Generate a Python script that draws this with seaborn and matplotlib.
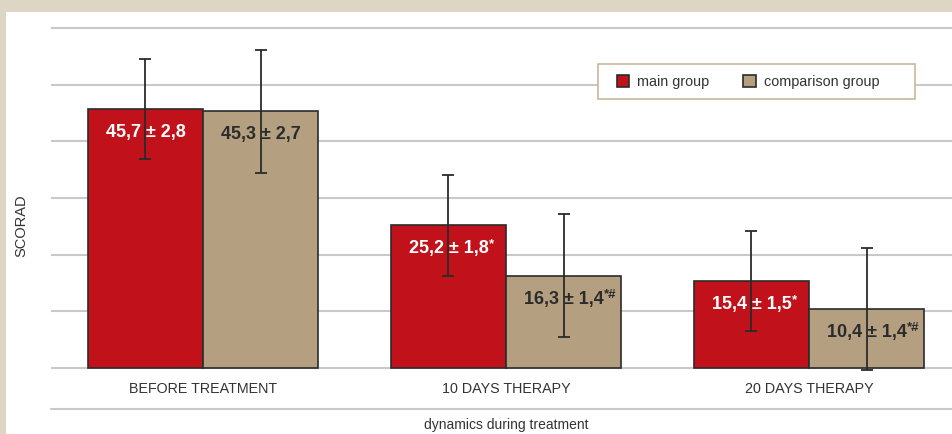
import pandas as pd
import matplotlib.pyplot as plt
import seaborn as sns
from matplotlib.lines import Line2D
from matplotlib.patches import Rectangle

# data
stages = ["BEFORE TREATMENT", "10 DAYS THERAPY", "20 DAYS THERAPY"]
groups = ["main group", "comparison group"]
main_vals = [45.7, 25.2, 15.4]
comp_vals = [45.3, 16.3, 10.4]
main_err = [8.8, 8.9, 8.8]
comp_err = [10.8, 10.8, 10.8]
main_labels = ["45,7 ± 2,8", "25,2 ± 1,8", "15,4 ± 1,5"]
main_sup = ["", "*", "*"]
comp_labels = ["45,3 ± 2,7", "16,3 ± 1,4", "10,4 ± 1,4"]
comp_sup = ["", "*#", "*#"]

df = pd.DataFrame({
    "stage": stages * 2,
    "group": [groups[0]] * 3 + [groups[1]] * 3,
    "value": main_vals + comp_vals,
})

red = "#c1121b"
tan = "#b49f80"
text_col = "#333333"
grid_col = "#c9c9c9"

sns.set_style("white")
plt.rcParams["font.family"] = ["Liberation Sans", "DejaVu Sans"]

fig = plt.figure(figsize=(9.53, 4.34), dpi=100)
fig.patch.set_facecolor("#ded6c4")
fig.add_artist(Rectangle((6 / 953, 0), 1, 1 - 12 / 434, transform=fig.transFigure,
                         facecolor="white", edgecolor="none", zorder=0))

W, H = 953, 434
unit = 340 / 60
ax = fig.add_axes([51.5 / W, (434 - 368 - 0.3 * unit) / H, 909 / W, (340 + 0.6 * unit) / H])
ax.set_facecolor("none")

sns.barplot(data=df, x="stage", y="value", hue="group", hue_order=groups,
            palette=[red, tan], width=0.76, errorbar=None, saturation=1,
            edgecolor="#2b2b2b", linewidth=1.2, ax=ax, zorder=3)

ax.set_ylim(-0.3, 60.3)
ax.set_xlim(-0.5, 2.5)
ax.set_yticks(range(0, 61, 10))
ax.set_yticklabels([])
ax.yaxis.grid(True, color=grid_col, linewidth=1.5)
ax.set_axisbelow(True)
for s in ax.spines.values():
    s.set_visible(False)
ax.tick_params(axis="both", length=0)
ax.tick_params(axis="x", pad=9, labelsize=10.3, labelcolor=text_col)

# error bars and value labels on top of bars
sets = [(main_err, main_labels, main_sup, "white"),
        (comp_err, comp_labels, comp_sup, "#2b2b2b")]
for cont, (errs, labs, sups, tc) in zip(ax.containers, sets):
    for bar, e, lab, sup in zip(cont, errs, labs, sups):
        xc = bar.get_x() + bar.get_width() / 2
        h = bar.get_height()
        ax.errorbar(xc, h, yerr=e, fmt="none", ecolor="#2b2b2b", elinewidth=1.3,
                    capsize=4.5, capthick=1.3, zorder=4, clip_on=False)
        t = ax.annotate(lab, (xc, h), xytext=(0, -17), textcoords="offset points",
                        ha="center", va="center", fontsize=13, fontweight="bold",
                        color=tc, zorder=5)
        if sup:
            ax.annotate(sup, xy=(1, 1), xycoords=t, xytext=(0.3, 1.5), textcoords="offset points",
                        ha="left", va="top", fontsize=9.5, fontweight="bold",
                        color=tc, zorder=5)

ax.set_xlabel("dynamics during treatment", fontsize=10, color=text_col, labelpad=16)
ax.set_ylabel("SCORAD", fontsize=10.5, color=text_col)
ax.yaxis.set_label_coords(28 / W, 1 - 226 / H, transform=fig.transFigure)

# line under category labels
fig.add_artist(Line2D([51.5 / W, 1], [1 - 409 / H] * 2, transform=fig.transFigure,
                      color=grid_col, linewidth=1.5))

# legend with a plain box around it
ax.add_patch(Rectangle((598 / W, 1 - 99 / H), 317 / W, 35 / H, transform=fig.transFigure,
                       facecolor="white", edgecolor="#c9b99c", linewidth=1.2,
                       zorder=6, clip_on=False))
leg = ax.legend(loc="center left", bbox_to_anchor=(617 / W, 1 - 82 / H),
                bbox_transform=fig.transFigure, ncol=2, frameon=False,
                fontsize=10.4, handlelength=0.85, handleheight=0.85, handletextpad=0.55,
                columnspacing=2.35, borderpad=0, borderaxespad=0)
leg.set_zorder(7)
for txt in leg.get_texts():
    txt.set_color(text_col)
for hnd in leg.legend_handles:
    hnd.set_edgecolor("#2b2b2b")

fig.savefig("out.png", dpi=100, facecolor=fig.get_facecolor())
